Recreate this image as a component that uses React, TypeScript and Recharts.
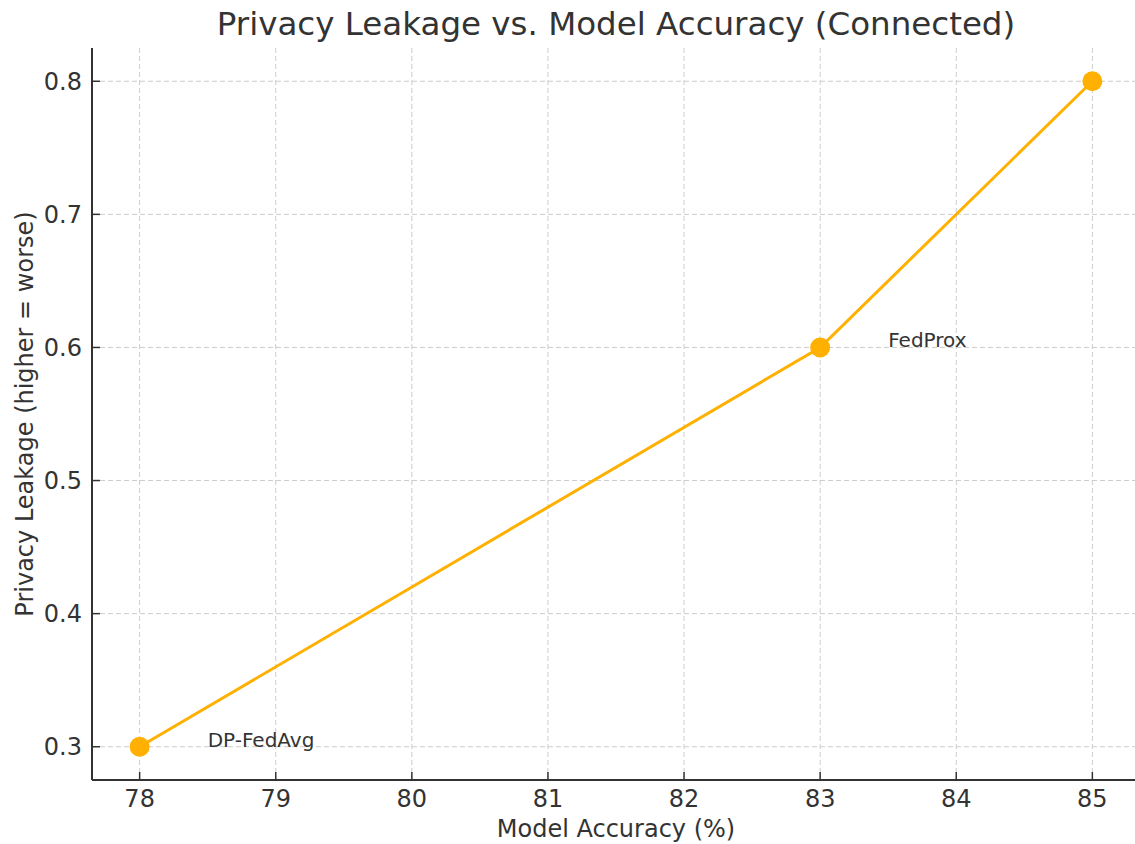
import React from "react";
import {
  ComposedChart,
  Line,
  Scatter,
  XAxis,
  YAxis,
  CartesianGrid,
} from "recharts";

const accuracy = [78, 83, 85];
const leakage = [0.3, 0.6, 0.8];
const pointLabels = ["DP-FedAvg", "FedProx"];
const labelShift = 0.5;
const xTicks = [78, 79, 80, 81, 82, 83, 84, 85];
const yTicks = [0.3, 0.4, 0.5, 0.6, 0.7, 0.8];

const lineData = accuracy.map((a, i) => ({ acc: a, leak: leakage[i] }));
const labelData = pointLabels.map((name, i) => ({
  acc: accuracy[i] + labelShift,
  leak: leakage[i],
  name,
}));

const FONT = "'DejaVu Sans', sans-serif";
const TEXT = "#333333";
const ORANGE = "#FFB000";

const XTick = (props: any) => {
  const { x, y, payload } = props;
  return (
    <g>
      <line x1={x} x2={x} y1={y} y2={y - 8} stroke={TEXT} strokeWidth={1.5} />
      <text
        x={x}
        y={y + 27}
        textAnchor="middle"
        fontSize={24}
        fontFamily={FONT}
        fill={TEXT}
      >
        {payload.value}
      </text>
    </g>
  );
};

const YTick = (props: any) => {
  const { x, y, payload } = props;
  return (
    <g>
      <line x1={x} x2={x + 8} y1={y} y2={y} stroke={TEXT} strokeWidth={1.5} />
      <text
        x={x - 10}
        y={y}
        dy="0.36em"
        textAnchor="end"
        fontSize={24}
        fontFamily={FONT}
        fill={TEXT}
      >
        {Number(payload.value).toFixed(1)}
      </text>
    </g>
  );
};

const LabelShape = (props: any) => {
  const { cx, cy, payload } = props;
  return (
    <text x={cx} y={cy} fontSize={20} fontFamily={FONT} fill={TEXT}>
      {payload.name}
    </text>
  );
};

export default function App() {
  return (
    <div
      style={{
        position: "absolute",
        left: 0,
        top: 0,
        width: 1135,
        height: 844,
        overflow: "hidden",
        background: "#ffffff",
      }}
    >
      <div
        style={{
          position: "absolute",
          left: 616,
          top: 8,
          transform: "translateX(-50%)",
          whiteSpace: "nowrap",
          fontFamily: FONT,
          fontSize: 32.5,
          lineHeight: 1,
          color: TEXT,
        }}
      >
        Privacy Leakage vs. Model Accuracy (Connected)
      </div>
      <ComposedChart
        width={1140}
        height={844}
        margin={{ top: 48, right: 0, bottom: 0, left: 0 }}
        style={{ position: "absolute", left: 0, top: 0 }}
      >
        <CartesianGrid
          stroke="#cccccc"
          strokeDasharray="5 3"
          strokeWidth={1}
          horizontalValues={yTicks}
          verticalValues={xTicks}
        />
        <XAxis
          dataKey="acc"
          type="number"
          domain={[77.65, 85.35]}
          ticks={xTicks}
          allowDataOverflow
          height={64}
          tickSize={0}
          tickMargin={0}
          tickLine={false}
          axisLine={{ stroke: TEXT, strokeWidth: 2 }}
          tick={<XTick />}
          label={{
            content: (p: any) => {
              const vb = p.viewBox;
              return (
                <text
                  x={vb.x + vb.width / 2}
                  y={vb.y + 57}
                  textAnchor="middle"
                  fontSize={24}
                  fontFamily={FONT}
                  fill={TEXT}
                >
                  Model Accuracy (%)
                </text>
              );
            },
          }}
        />
        <YAxis
          dataKey="leak"
          type="number"
          domain={[0.275, 0.825]}
          ticks={yTicks}
          allowDataOverflow
          width={92}
          tickSize={0}
          tickMargin={0}
          tickLine={false}
          axisLine={{ stroke: TEXT, strokeWidth: 2 }}
          tick={<YTick />}
          label={{
            content: (p: any) => {
              const vb = p.viewBox;
              const cx = 24;
              const cy = vb.y + vb.height / 2;
              return (
                <text
                  x={cx}
                  y={cy}
                  dy="0.36em"
                  textAnchor="middle"
                  transform={`rotate(-90, ${cx}, ${cy})`}
                  fontSize={24}
                  fontFamily={FONT}
                  fill={TEXT}
                >
                  Privacy Leakage (higher = worse)
                </text>
              );
            },
          }}
        />
        <Line
          data={lineData}
          dataKey="leak"
          type="linear"
          stroke={ORANGE}
          strokeWidth={3}
          dot={{ r: 10, fill: ORANGE, stroke: "none" }}
          activeDot={false}
          isAnimationActive={false}
        />
        <Scatter
          data={labelData}
          dataKey="leak"
          shape={<LabelShape />}
          isAnimationActive={false}
        />
      </ComposedChart>
    </div>
  );
}
